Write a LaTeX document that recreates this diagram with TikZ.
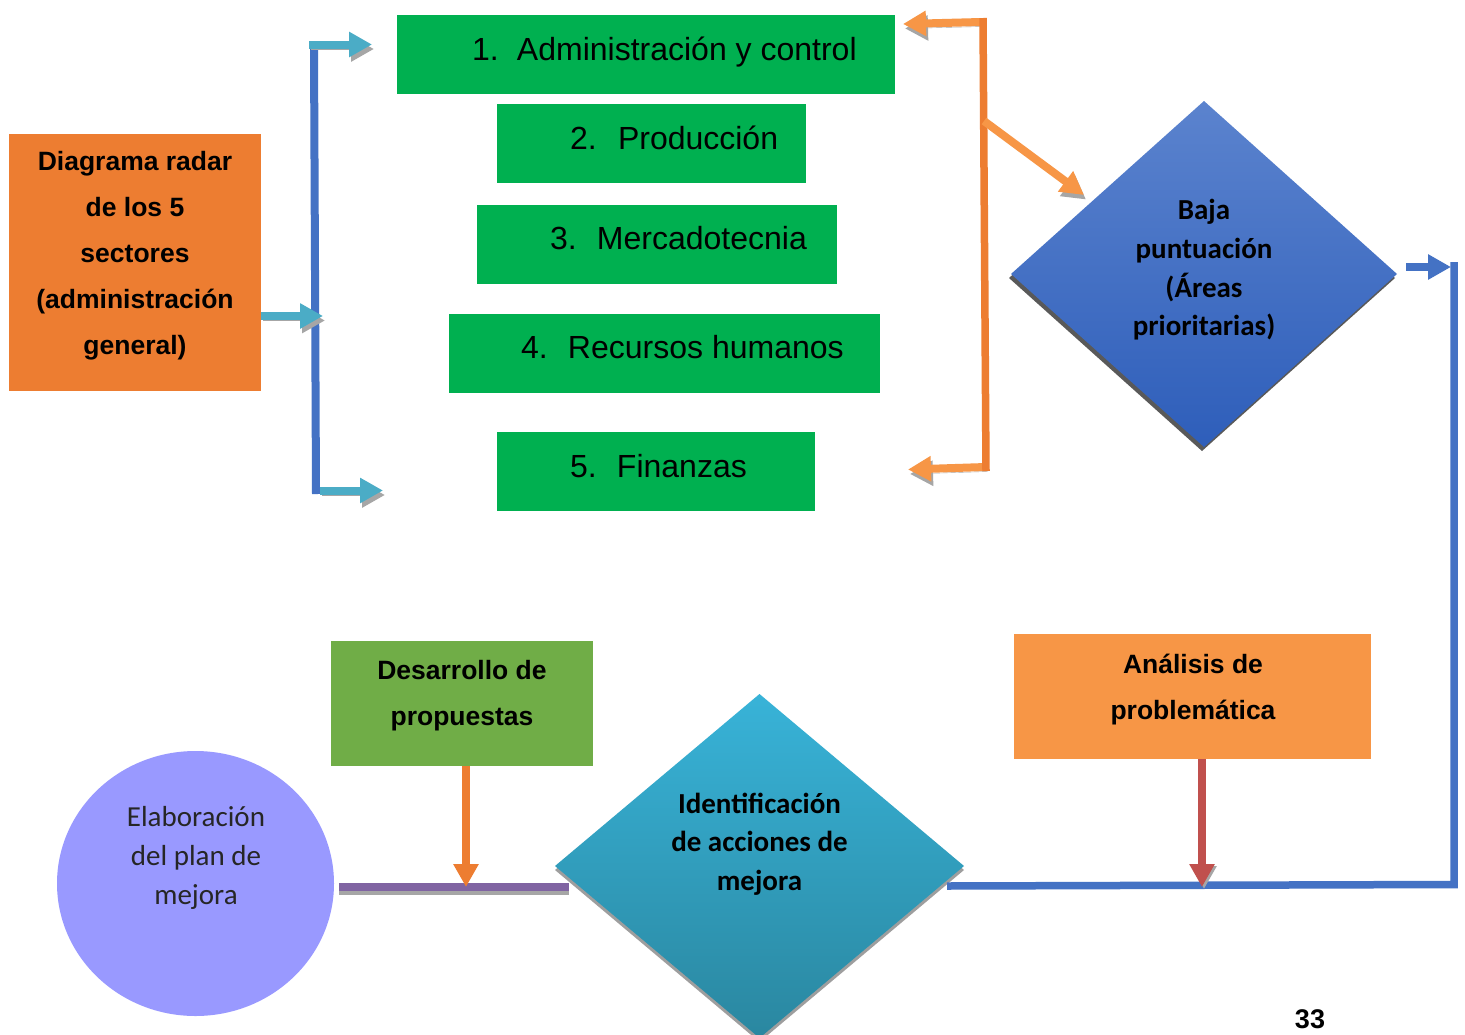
\documentclass[tikz,border=0pt]{standalone}
\usepackage{fontspec}
\setmainfont{Liberation Sans}
\newfontfamily\calfont{Carlito}
\usetikzlibrary{arrows.meta,shapes.geometric,shadows}
\definecolor{cOrange}{HTML}{ED7D31}
\definecolor{cLOrange}{HTML}{F79646}
\definecolor{cGreen}{HTML}{00B050}
\definecolor{cLGreen}{HTML}{70AD47}
\definecolor{cBlue}{HTML}{4472C4}
\definecolor{cTeal}{HTML}{4BACC6}
\definecolor{cRed}{HTML}{C0504D}
\definecolor{cPurple}{HTML}{8064A2}
\definecolor{cLav}{HTML}{9999FF}
\definecolor{cShadow}{HTML}{A6A6A6}
\definecolor{cDiaTop}{HTML}{5B83CE}
\definecolor{cDiaBot}{HTML}{2E5EBA}
\definecolor{cTealTop}{HTML}{38B3D8}
\definecolor{cTealBot}{HTML}{2A87A0}
\begin{document}
\begin{tikzpicture}[x=1pt,y=-1pt,
  every node/.style={inner sep=0pt, outer sep=0pt},
  gbox/.style={rectangle, fill=cGreen, minimum height=79pt},
  gtext/.style={anchor=base west, font=\fontsize{32}{38}\selectfont},
  btext/.style={align=center, font=\fontsize{26.5}{46}\selectfont\bfseries},
  ctext/.style={align=center, font=\fontsize{29}{38.7}\selectfont\calfont\bfseries},
  fatarrow/.style={line width=8pt, -{Triangle[width=24pt,length=23pt]}},
  shad/.style={preaction={draw=cShadow, transform canvas={xshift=2pt,yshift=-4.5pt}}},
  thickbar/.style={line width=8pt},
]
\fill[white] (0,0) rectangle (1465,1034);
\useasboundingbox (0,0) rectangle (1465,1034);

% ---------- boxes ----------
\node[rectangle, fill=cOrange, minimum width=252pt, minimum height=257pt] (radar) at (135,262.5) {};
\node[btext] (radarT) at (135,256) {Diagrama radar\\de los 5\\sectores\\(administración\\general)};

\node[gbox, minimum width=498pt] (g1) at (646,54.5) {};
\node[gbox, minimum width=309pt] (g2) at (651.5,143.5) {};
\node[gbox, minimum width=360pt] (g3) at (657,244.5) {};
\node[gbox, minimum width=431pt] (g4) at (664.5,353.5) {};
\node[gbox, minimum width=318pt] (g5) at (656,471.5) {};
\node[gtext] (g1t) at (472,60) {\makebox[45pt][l]{1.}Administración y control};
\node[gtext] (g2t) at (570,149.5) {\makebox[48pt][l]{2.}Producción};
\node[gtext] (g3t) at (550,249.5) {\makebox[47pt][l]{3.}Mercadotecnia};
\node[gtext] (g4t) at (521,358.5) {\makebox[47pt][l]{4.}Recursos humanos};
\node[gtext] (g5t) at (570,477.5) {\makebox[47pt][l]{5.}Finanzas};

\node[diamond, minimum width=386pt, minimum height=346pt, top color=cDiaTop, bottom color=cDiaBot,
  drop shadow={shadow xshift=-2pt, shadow yshift=-4pt, fill=black!65, opacity=1}] (baja) at (1204,274) {};
\node[ctext] (bajaT) at (1204,270) {Baja\\puntuación\\(Áreas\\prioritarias)};

\node[rectangle, fill=cLOrange, minimum width=357pt, minimum height=125pt] (anal) at (1192.5,696.5) {};
\node[btext] (analT) at (1193,690) {Análisis de\\problemática};

\node[rectangle, fill=cLGreen, minimum width=262pt, minimum height=125pt] (desa) at (462,703.5) {};
\node[btext] (desaT) at (462,696) {Desarrollo de\\propuestas};

\node[diamond, minimum width=409pt, minimum height=344pt, top color=cTealTop, bottom color=cTealBot,
  drop shadow={shadow xshift=0pt, shadow yshift=-4pt, fill=black!38, opacity=1}] (ident) at (759.5,866) {};
\node[ctext] (identT) at (759.5,844) {Identificación\\de acciones de\\mejora};

\node[ellipse, fill=cLav, minimum width=277pt, minimum height=265pt] (plan) at (195.5,883.5) {};
\node[align=center, font=\fontsize{29}{39}\selectfont\calfont, text=black!85] (planT) at (196,858) {Elaboración\\del plan de\\mejora};

\node[font=\fontsize{27}{32}\selectfont\bfseries] (pg) at (1310,1019) {33};

% ---------- coordinates ----------
\coordinate (bTop) at (314,48);
\coordinate (bBot) at (316,494);
\coordinate (tTopS) at (309,44.5);
\coordinate (tTopE) at (372,44.5);
\coordinate (tMidE) at (323,316);
\coordinate (tBotS) at (320,490.5);
\coordinate (tBotE) at (383,490.5);

\coordinate (oTop) at (983,18);
\coordinate (oBot) at (986,471);
\coordinate (oTopS) at (981,22);
\coordinate (oTopE) at (903,24);
\coordinate (oBotS) at (986,467);
\coordinate (oBotE) at (908,469.5);
\coordinate (oDiaS) at (984,121);
\coordinate (oDiaE) at (1084,195);

\coordinate (rArS) at (1406,267);
\coordinate (rArE) at (1451,267);
\coordinate (rTop) at (1454,262);
\coordinate (rCorner) at (1454,884.5);
\coordinate (rEnd) at (947,886);
\coordinate (redE) at (1202,887);
\coordinate (oraE) at (466,887);
\coordinate (pS) at (339,887);
\coordinate (pE) at (569,887);

% ---------- connectors ----------
\draw[fatarrow, cLOrange, shad] (oTopS) -- (oTopE);
\draw[fatarrow, cLOrange, shad] (oBotS) -- (oBotE);
\draw[cOrange, line width=7.5pt] (oTop) -- (oBot);
\draw[fatarrow, cLOrange, shad] (oDiaS) -- (oDiaE);

\draw[cBlue, line width=8pt] (bTop) -- (bBot);
\draw[fatarrow, cTeal, shad] (tTopS) -- (tTopE);
\draw[fatarrow, cTeal, shad] (radar.east |- tMidE) -- (tMidE);
\draw[fatarrow, cTeal, shad] (tBotS) -- (tBotE);

\draw[fatarrow, cBlue] (rArS) -- (rArE);
\draw[cBlue, line width=7.5pt, line join=miter] (rTop) -- (rCorner) -- (rEnd);

\draw[cShadow, thickbar] ([yshift=-4pt]pS) -- ([yshift=-4pt]pE);
\draw[cPurple, thickbar] (pS) -- (pE);

\draw[fatarrow, cRed, line width=7.5pt, preaction={draw=cShadow, transform canvas={xshift=2pt,yshift=-2pt}}] (anal.south -| redE) -- (redE);
\draw[fatarrow, cOrange] (desa.south -| oraE) -- (oraE);
\end{tikzpicture}
\end{document}
